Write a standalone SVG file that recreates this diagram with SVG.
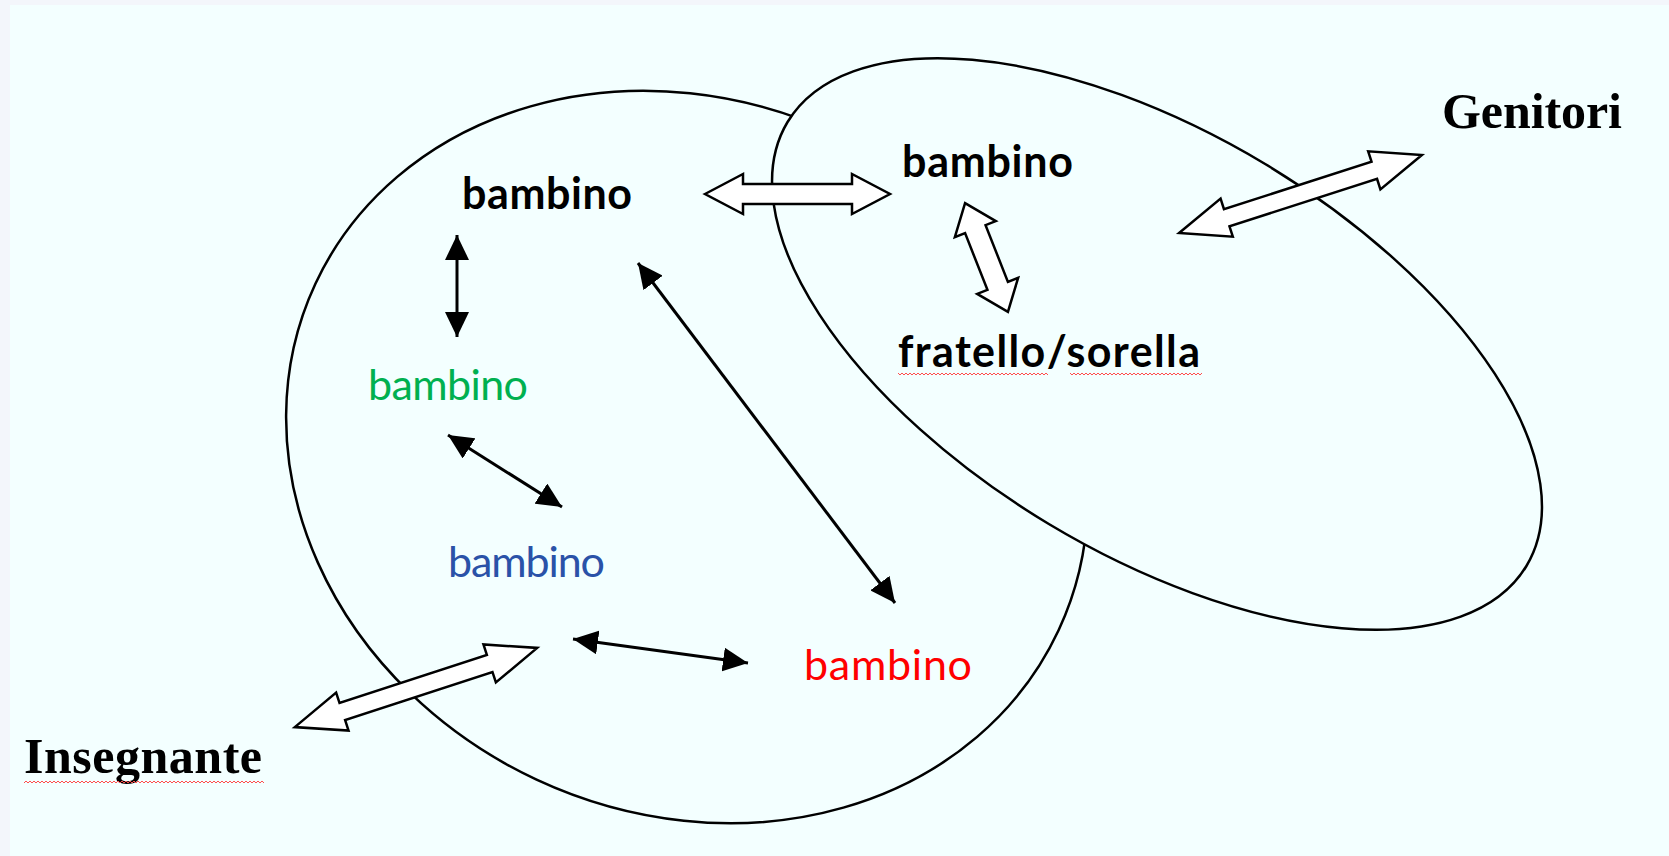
<svg xmlns="http://www.w3.org/2000/svg" width="1669" height="856" viewBox="0 0 1669 856">
<style>
.ell{fill:#f3ffff;stroke:#000;stroke-width:2.5}
.blk{fill:#ffffff;stroke:#000;stroke-width:2.5;stroke-linejoin:miter}
.ln{stroke:#000;stroke-width:3;fill:none;marker-start:url(#ah);marker-end:url(#ah)}
.sans{font-family:Lato,"Open Sans","Liberation Sans",sans-serif;font-size:43px}
.b{font-weight:bold}
.serif{font-family:"Liberation Serif","Times New Roman",serif;font-weight:bold;font-size:50px;fill:#000}
</style>
<defs>
<marker id="ah" viewBox="0 0 25 24" refX="25" refY="12" markerWidth="25" markerHeight="24" markerUnits="userSpaceOnUse" orient="auto-start-reverse">
<path d="M0,0 L25,12 L0,24 Z" fill="#000"/>
</marker>
<pattern id="squig" width="4" height="4" patternUnits="userSpaceOnUse">
<path d="M0,3 L2,1 L4,3" fill="none" stroke="#ff4d4d" stroke-width="1"/>
</pattern>
</defs>
<rect width="1669" height="856" fill="#f3f6fb"/>
<rect x="10" y="5" width="1659" height="851" fill="#f3ffff"/>
<g id="school-circle"><ellipse class="ell" cx="687" cy="457" rx="410" ry="356" transform="rotate(25 687 457)"/></g>
<g id="family-circle"><ellipse class="ell" cx="1157" cy="344" rx="431" ry="210" transform="rotate(31 1157 344)"/></g>
<g id="connectors">
<line class="ln" x1="457" y1="235" x2="457" y2="337"/>
<line class="ln" x1="448" y1="435" x2="562" y2="507"/>
<line class="ln" x1="638" y1="263" x2="895" y2="603"/>
<line class="ln" x1="573" y1="639" x2="748" y2="663"/>
<path class="blk" transform="translate(797.5 194)" d="M-92.5,0 L-54.5,-20 L-54.5,-10 L54.5,-10 L54.5,-20 L92.5,0 L54.5,20 L54.5,10 L-54.5,10 L-54.5,20 Z"/>
<path class="blk" transform="translate(1300.5 194) rotate(-17.8)" d="M-127.5,0 L-77.5,-20 L-77.5,-9 L77.5,-9 L77.5,-20 L127.5,0 L77.5,20 L77.5,9 L-77.5,9 L-77.5,20 Z"/>
<path class="blk" transform="translate(416 687.5) rotate(-18.1)" d="M-127.5,0 L-77.5,-20 L-77.5,-9 L77.5,-9 L77.5,-20 L127.5,0 L77.5,20 L77.5,9 L-77.5,9 L-77.5,20 Z"/>
<path class="blk" transform="translate(986.5 257.5) rotate(68.5)" d="M-58.5,0 L-30.5,-22 L-30.5,-11 L30.5,-11 L30.5,-22 L58.5,0 L30.5,22 L30.5,11 L-30.5,11 L-30.5,22 Z"/>
</g>
<g id="bambino-top"><text class="sans b" x="462" y="209" textLength="170" fill="#000">bambino</text></g>
<g id="bambino-green"><text class="sans" x="368" y="400" textLength="160" fill="#00b050">bambino</text></g>
<g id="bambino-blue"><text class="sans" x="448" y="577" textLength="157" fill="#2a52a8">bambino</text></g>
<g id="bambino-red"><text class="sans" x="804" y="680" textLength="168" fill="#ff0000">bambino</text></g>
<g id="bambino-sibling"><text class="sans b" x="902" y="177" textLength="171" fill="#000">bambino</text></g>
<g id="fratello-sorella">
<text class="sans b" x="898" y="367" textLength="302" fill="#000">fratello/sorella</text>
<rect x="898" y="373" width="150" height="4" fill="url(#squig)"/>
<rect x="1070" y="373" width="132" height="4" fill="url(#squig)"/>
</g>
<g id="genitori"><text class="serif" x="1442" y="128" textLength="180">Genitori</text></g>
<g id="insegnante">
<text class="serif" x="24" y="773" textLength="238">Insegnante</text>
<rect x="24" y="779" width="240" height="4" fill="url(#squig)"/>
</g>
</svg>
